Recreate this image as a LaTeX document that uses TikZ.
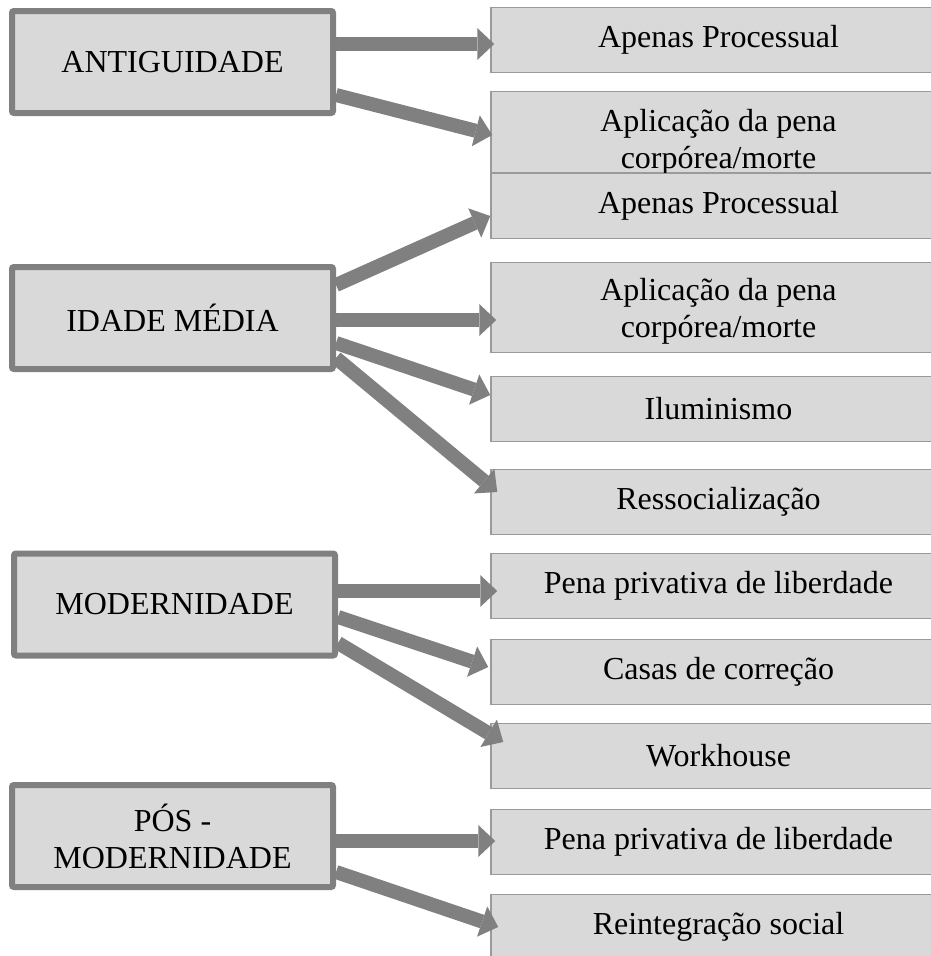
\documentclass[tikz,border=0pt]{standalone}
\usepackage{fontspec}
\setmainfont{Liberation Serif}
\usepackage{xcolor}
\usepackage{tikz}
\usetikzlibrary{arrows.meta}
\definecolor{boxgray}{HTML}{D9D9D9}
\definecolor{arrgray}{HTML}{808080}
\definecolor{linegray}{HTML}{9A9A9A}

\begin{document}
\begin{tikzpicture}[x=1pt,y=-1pt,
  era/.style={draw=arrgray,fill=boxgray,line width=6pt,rounded corners=2pt,
    minimum width=321pt,minimum height=102pt,inner sep=0pt,align=center,
    font=\fontsize{32}{37}\selectfont},
  item/.style={draw=linegray,fill=boxgray,line width=1.5pt,
    minimum width=455pt,minimum height=65pt,inner sep=0pt,align=center,
    font=\fontsize{32}{37}\selectfont},
  seta/.style={draw=arrgray,line width=14pt,
    -{Triangle[width=32pt,length=17pt,line width=0pt]}}]
\path[use as bounding box,clip] (0,0) rectangle (931,956);
% caixas da direita
\node[item] (r1) at (718.5,40) {Apenas Processual};
\node[item,minimum height=81pt,text height=72pt,text depth=0pt] (r2) at (718.5,132) {Aplicação da pena\\corpórea/morte};
\node[item] (r3) at (718.5,206) {Apenas Processual};
\node[item,minimum height=90pt,text height=60pt,text depth=0pt] (r4) at (718.5,307.5) {Aplicação da pena\\corpórea/morte};
\node[item] (r5) at (718.5,409) {Iluminismo};
\node[item] (r6) at (718.5,502) {Ressocialização};
\node[item] (r7) at (718.5,586) {Pena privativa de liberdade};
\node[item] (r8) at (718.5,672) {Casas de correção};
\node[item] (r9) at (718.5,756) {Workhouse};
\node[item] (r10) at (718.5,842) {Pena privativa de liberdade};
\node[item] (r11) at (718.5,927) {Reintegração social};
% periodos
\node[era] (ant) at (172.5,62) {ANTIGUIDADE};
\node[era] (med) at (172.5,318) {IDADE MÉDIA};
\node[era] (mod) at (174.5,604.5) {MODERNIDADE};
\node[era] (pos) at (172.5,836) {PÓS -\\MODERNIDADE};
% setas
\draw[seta] ([yshift=18pt]ant.east) -- ([xshift=4pt,yshift=-4pt]r1.west);
\draw[seta] ([yshift=-33pt]ant.east) -- ([xshift=2pt,yshift=-3pt]r2.west);
\draw[seta] ([yshift=33pt]med.east) -- ([yshift=-10pt]r3.west);
\draw[seta] ([yshift=-2pt]med.east) -- ([xshift=6pt,yshift=-12.5pt]r4.west);
\draw[seta] ([yshift=-25pt]med.east) -- ([yshift=14pt]r5.west);
\draw[seta] ([yshift=-40pt]med.east) -- ([xshift=7pt,yshift=10pt]r6.west);
\draw[seta] ([yshift=13.5pt]mod.east) -- ([xshift=7pt,yshift=-5pt]r7.west);
\draw[seta] ([yshift=-12.5pt]mod.east) -- ([xshift=-2pt,yshift=5pt]r8.west);
\draw[seta] ([yshift=-38.5pt]mod.east) -- ([xshift=13pt,yshift=14pt]r9.west);
\draw[seta] ([yshift=-5pt]pos.east) -- ([xshift=5pt,yshift=1pt]r10.west);
\draw[seta] ([yshift=-36pt]pos.east) -- ([xshift=8pt]r11.west);
\end{tikzpicture}
\end{document}
